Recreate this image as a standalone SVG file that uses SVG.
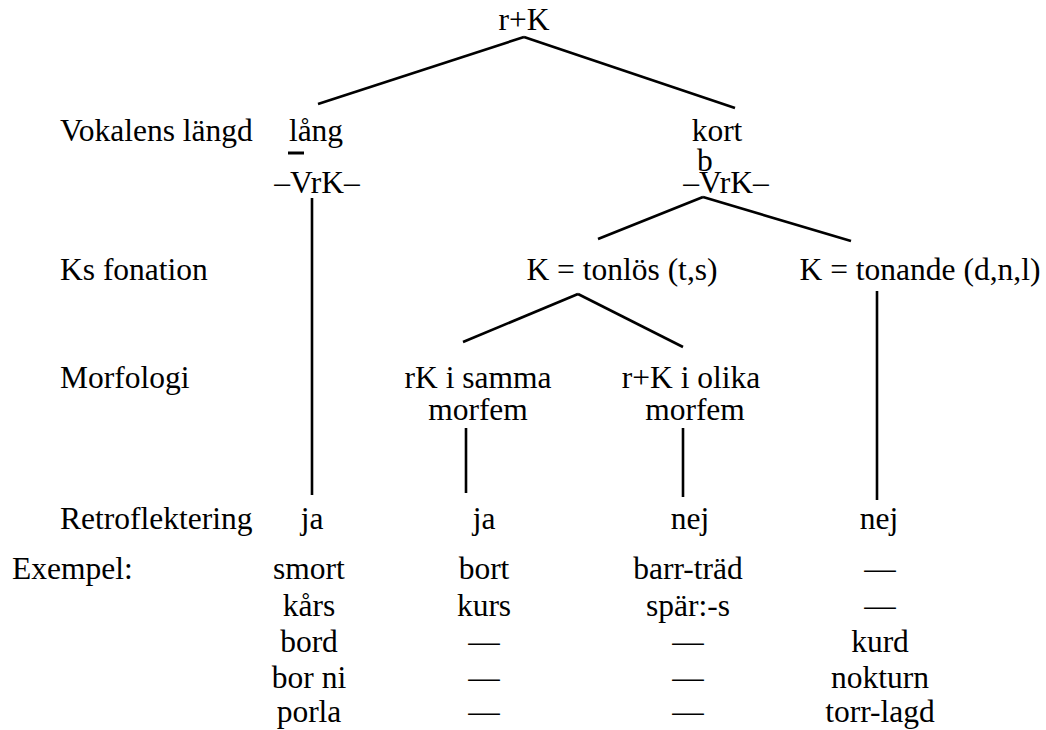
<svg xmlns="http://www.w3.org/2000/svg" width="1046" height="730" viewBox="0 0 1046 730">
<style>
text{font-family:"Liberation Serif","Times New Roman",serif;font-size:31.5px;fill:#000}
.m{text-anchor:middle}
.c line{stroke:#000;stroke-width:2.6}
</style>
<rect width="1046" height="730" fill="#fff"/>
<g id="labels">
<text x="60" y="141">Vokalens längd</text>
<text x="60" y="280">Ks fonation</text>
<text x="60" y="388">Morfologi</text>
<text x="60" y="529">Retroflektering</text>
<text x="12" y="579">Exempel:</text>
</g>
<g id="root"><text class="m" x="524" y="30">r+K</text></g>
<g id="lang"><text class="m" x="316" y="141">lång</text><text class="m" x="317" y="193">–VrK–</text><line x1="288" y1="153" x2="304" y2="153" stroke="#000" stroke-width="3"/></g>
<g id="kort"><text class="m" x="717" y="141">kort</text><text x="697" y="171">b</text><text class="m" x="726" y="193">–VrK–</text></g>
<g id="tonlos"><text class="m" x="622" y="280">K = tonlös (t,s)</text></g>
<g id="tonande"><text class="m" x="920" y="280">K = tonande (d,n,l)</text></g>
<g id="samma"><text class="m" x="478" y="388">rK i samma</text><text class="m" x="478" y="420">morfem</text></g>
<g id="olika"><text class="m" x="691" y="388">r+K i olika</text><text class="m" x="695" y="420">morfem</text></g>
<g id="ja1"><text class="m" x="312" y="529">ja</text></g>
<g id="ja2"><text class="m" x="484" y="529">ja</text></g>
<g id="nej1"><text class="m" x="690" y="529">nej</text></g>
<g id="nej2"><text class="m" x="879" y="529">nej</text></g>
<g id="ex1">
<text class="m" x="309" y="579">smort</text>
<text class="m" x="309" y="616">kårs</text>
<text class="m" x="309" y="652">bord</text>
<text class="m" x="309" y="688">bor ni</text>
<text class="m" x="309" y="722">porla</text>
</g>
<g id="ex2">
<text class="m" x="484" y="579">bort</text>
<text class="m" x="484" y="616">kurs</text>
<text class="m" x="484" y="652">—</text>
<text class="m" x="484" y="688">—</text>
<text class="m" x="484" y="722">—</text>
</g>
<g id="ex3">
<text class="m" x="688" y="579">barr-träd</text>
<text class="m" x="688" y="616">spär:-s</text>
<text class="m" x="688" y="652">—</text>
<text class="m" x="688" y="688">—</text>
<text class="m" x="688" y="722">—</text>
</g>
<g id="ex4">
<text class="m" x="880" y="579">—</text>
<text class="m" x="880" y="616">—</text>
<text class="m" x="880" y="652">kurd</text>
<text class="m" x="880" y="688">nokturn</text>
<text class="m" x="880" y="722">torr-lagd</text>
</g>
<g id="connectors" class="c">
<line x1="524" y1="37" x2="318" y2="104"/>
<line x1="524" y1="37" x2="735" y2="108"/>
<line x1="312" y1="198" x2="312" y2="495"/>
<line x1="703" y1="197" x2="598" y2="239"/>
<line x1="703" y1="197" x2="851" y2="241"/>
<line x1="578" y1="294" x2="463" y2="342"/>
<line x1="578" y1="294" x2="683" y2="347"/>
<line x1="466" y1="428" x2="466" y2="493"/>
<line x1="683" y1="428" x2="683" y2="497"/>
<line x1="877" y1="291" x2="877" y2="500"/>
</g>
</svg>
